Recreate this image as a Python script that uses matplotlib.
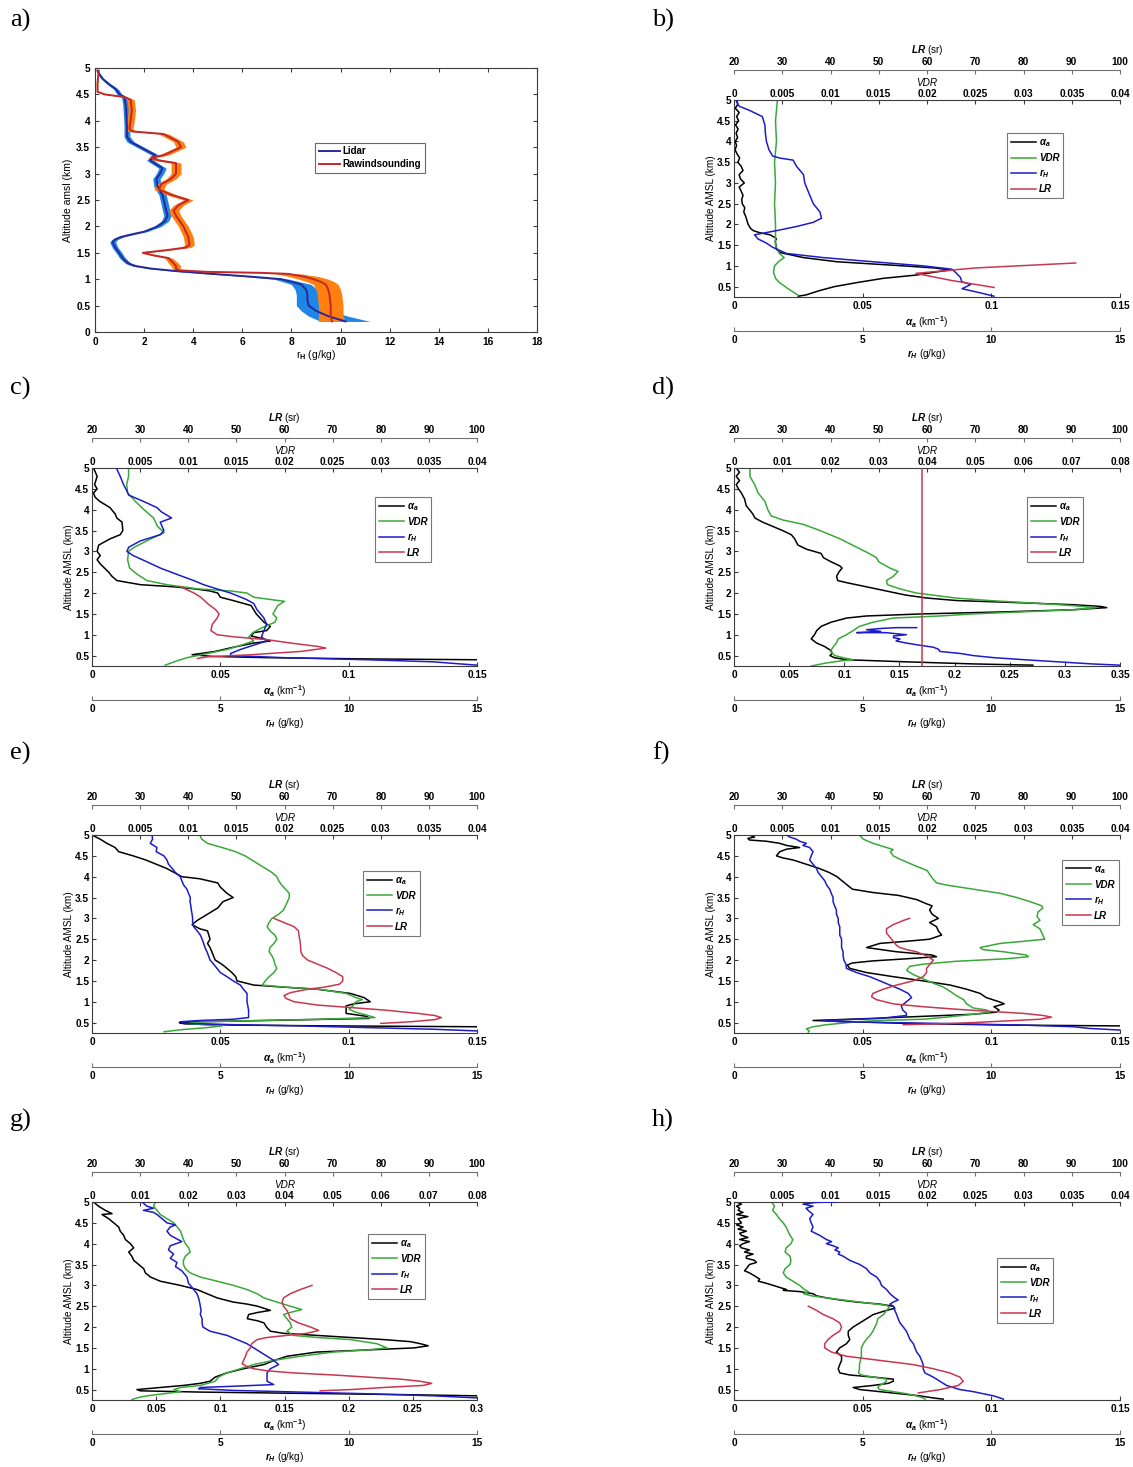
import numpy as np
import matplotlib
matplotlib.use('Agg')
import matplotlib.pyplot as plt
from matplotlib.ticker import FuncFormatter

plt.rcParams['font.family'] = ['Liberation Sans', 'DejaVu Sans']
plt.rcParams['font.weight'] = 'bold'
plt.rcParams['mathtext.fontset'] = 'custom'
plt.rcParams['mathtext.rm'] = 'Liberation Sans'
plt.rcParams['mathtext.it'] = 'Liberation Sans:italic'
plt.rcParams['mathtext.bf'] = 'Liberation Sans:bold'
plt.rcParams['mathtext.bfit'] = 'Liberation Sans:bold:italic'

# ---- panel a: water vapour mixing ratio, (altitude km, r_H g/kg, half width)
lidar_rh = [(0.2, 10.2, 1.0), (0.3, 9.5, 0.8), (0.4, 9.0, 0.6), (0.5, 8.7, 0.5), (0.6, 8.65, 0.45),
            (0.7, 8.65, 0.45), (0.8, 8.6, 0.45), (0.9, 8.4, 0.4), (1.0, 7.6, 0.3), (1.05, 6.3, 0.25),
            (1.1, 4.8, 0.2), (1.15, 3.4, 0.2), (1.2, 2.3, 0.15), (1.25, 1.65, 0.15), (1.3, 1.35, 0.12),
            (1.4, 1.12, 0.12), (1.5, 0.98, 0.12), (1.6, 0.82, 0.12), (1.7, 0.72, 0.12), (1.75, 0.8, 0.12),
            (1.8, 1.05, 0.12), (1.85, 1.5, 0.12), (1.9, 2.0, 0.12), (2.0, 2.55, 0.15), (2.1, 2.85, 0.15),
            (2.2, 2.95, 0.15), (2.4, 2.85, 0.15), (2.6, 2.75, 0.15), (2.75, 2.55, 0.15), (2.9, 2.5, 0.15),
            (3.0, 2.65, 0.15), (3.1, 2.75, 0.15), (3.25, 2.25, 0.15), (3.35, 2.45, 0.15), (3.45, 2.05, 0.15),
            (3.6, 1.45, 0.15), (3.7, 1.3, 0.12), (3.9, 1.3, 0.12), (4.1, 1.28, 0.12), (4.3, 1.25, 0.12),
            (4.45, 1.2, 0.12), (4.5, 1.0, 0.1), (4.6, 0.85, 0.1), (4.7, 0.55, 0.08), (4.8, 0.3, 0.06),
            (4.9, 0.15, 0.05), (4.95, 0.1, 0.03)]
sonde_rh = [(0.2, 9.65, 0.55), (0.3, 9.6, 0.5), (0.5, 9.6, 0.5), (0.7, 9.55, 0.5), (0.8, 9.5, 0.5),
            (0.9, 9.4, 0.5), (0.95, 9.2, 0.55), (1.0, 8.9, 0.6), (1.05, 8.5, 0.6), (1.1, 7.9, 0.5),
            (1.12, 6.8, 0.3), (1.14, 4.5, 0.2), (1.17, 3.4, 0.15), (1.2, 3.3, 0.15), (1.25, 3.3, 0.2),
            (1.3, 3.2, 0.2), (1.4, 3.0, 0.15), (1.45, 2.4, 0.1), (1.5, 1.95, 0.1), (1.55, 2.9, 0.15),
            (1.6, 3.7, 0.2), (1.65, 3.85, 0.2), (1.8, 3.8, 0.2), (2.0, 3.6, 0.2), (2.2, 3.3, 0.2),
            (2.3, 3.2, 0.2), (2.4, 3.4, 0.2), (2.5, 3.8, 0.2), (2.6, 3.1, 0.2), (2.7, 2.6, 0.2),
            (2.8, 2.7, 0.2), (2.9, 3.1, 0.2), (3.0, 3.3, 0.2), (3.2, 3.3, 0.2), (3.25, 2.6, 0.2),
            (3.3, 2.3, 0.15), (3.35, 2.8, 0.2), (3.5, 3.5, 0.2), (3.6, 3.4, 0.2), (3.75, 2.8, 0.2),
            (3.8, 1.5, 0.15), (3.85, 1.4, 0.15), (4.0, 1.45, 0.15), (4.2, 1.5, 0.15), (4.4, 1.45, 0.15),
            (4.45, 1.2, 0.1), (4.5, 0.4, 0.05), (4.55, 0.1, 0.02), (4.7, 0.1, 0.02), (4.95, 0.15, 0.02)]

# ---- panels b-h: (altitude km, value)
b_alpha = [(5.0, 0.0008), (4.9, 0.0015), (4.8, 0.0005), (4.7, 0.002), (4.6, 0.001), (4.5, 0.0018),
           (4.4, 0.0006), (4.3, 0.0016), (4.2, 0.0008), (4.1, 0.0014), (4.0, 0.0005), (3.9, 0.001),
           (3.8, 0.0004), (3.7, 0.0012), (3.6, 0.0022), (3.5, 0.0015), (3.4, 0.0028), (3.3, 0.0035),
           (3.2, 0.002), (3.1, 0.0025), (3.0, 0.004), (2.9, 0.002), (2.8, 0.0028), (2.7, 0.0035),
           (2.6, 0.003), (2.5, 0.0032), (2.4, 0.0042), (2.3, 0.0038), (2.2, 0.0045), (2.1, 0.005),
           (2.0, 0.0055), (1.9, 0.0065), (1.85, 0.0075), (1.8, 0.01), (1.75, 0.014), (1.68, 0.016),
           (1.65, 0.0165), (1.6, 0.016), (1.5, 0.0163), (1.4, 0.0165), (1.32, 0.018), (1.2, 0.027),
           (1.1, 0.040), (1.05, 0.053), (1.0, 0.066), (0.95, 0.078), (0.9, 0.084), (0.85, 0.078),
           (0.78, 0.071), (0.7, 0.058), (0.6, 0.048), (0.5, 0.039), (0.4, 0.033), (0.3, 0.028), (0.27, 0.025)]
b_vdr = [(5.0, 0.0045), (4.5, 0.0043), (4.0, 0.0044), (3.5, 0.0042), (3.0, 0.0043), (2.5, 0.0042),
         (2.0, 0.0043), (1.5, 0.0043), (1.3, 0.0047), (1.2, 0.0052), (1.1, 0.0046), (1.0, 0.0042),
         (0.85, 0.0041), (0.7, 0.0043), (0.6, 0.0047), (0.45, 0.0056), (0.3, 0.0066)]
b_rh = [(5.0, 0.1), (4.9, 0.15), (4.85, 0.2), (4.75, 0.6), (4.6, 1.1), (4.5, 1.15), (4.4, 1.2), (4.2, 1.22),
        (4.0, 1.26), (3.8, 1.36), (3.65, 1.5), (3.6, 1.78), (3.55, 2.3), (3.4, 2.43), (3.2, 2.7), (3.0, 2.75),
        (2.8, 2.88), (2.5, 3.08), (2.3, 3.34), (2.15, 3.4), (2.05, 3.08), (1.95, 2.43), (1.85, 1.65),
        (1.75, 0.8), (1.65, 0.93), (1.55, 1.26), (1.45, 1.5), (1.3, 2.04), (1.2, 3.47), (1.1, 5.4),
        (1.0, 7.36), (0.92, 8.47), (0.85, 8.6), (0.72, 8.8), (0.62, 8.85), (0.55, 9.2), (0.45, 8.86),
        (0.35, 9.57), (0.27, 10.1)]
b_lr = [(1.07, 90.8), (0.95, 70.0), (0.82, 57.7), (0.65, 65.0), (0.48, 73.9)]

c_alpha = [(5.0, 0.0006), (4.8, 0.002), (4.6, 0.001), (4.5, 0.002), (4.4, 0.0006), (4.3, 0.0012), (4.2, 0.003),
           (4.05, 0.007), (3.9, 0.009), (3.8, 0.0097), (3.7, 0.0117), (3.5, 0.012), (3.4, 0.011), (3.3, 0.007),
           (3.15, 0.0026), (3.0, 0.002), (2.9, 0.0032), (2.8, 0.002), (2.7, 0.0032), (2.5, 0.0065),
           (2.4, 0.0078), (2.3, 0.0097), (2.2, 0.019), (2.15, 0.032), (2.1, 0.040), (2.05, 0.046),
           (2.0, 0.049), (1.9, 0.050), (1.82, 0.055), (1.7, 0.062), (1.5, 0.064), (1.3, 0.067), (1.2, 0.0695),
           (1.1, 0.068), (1.05, 0.063), (0.97, 0.062), (0.9, 0.067), (0.85, 0.0695), (0.8, 0.063),
           (0.7, 0.055), (0.6, 0.048), (0.52, 0.039), (0.48, 0.047), (0.45, 0.068), (0.42, 0.107), (0.4, 0.15)]
c_vdr = [(5.0, 0.0038), (4.8, 0.0038), (4.6, 0.0036), (4.4, 0.0037), (4.2, 0.0045), (4.0, 0.0054),
         (3.8, 0.0064), (3.6, 0.0068), (3.45, 0.0075), (3.3, 0.0061), (3.1, 0.0044), (3.0, 0.0038),
         (2.8, 0.0037), (2.6, 0.0039), (2.45, 0.0047), (2.3, 0.0057), (2.2, 0.0078), (2.1, 0.011),
         (2.05, 0.0144), (2.0, 0.0161), (1.9, 0.0168), (1.8, 0.020), (1.7, 0.0193), (1.5, 0.0188),
         (1.4, 0.0192), (1.3, 0.019), (1.15, 0.0175), (1.05, 0.0167), (0.95, 0.0163), (0.85, 0.0168),
         (0.75, 0.0155), (0.65, 0.0141), (0.55, 0.012), (0.45, 0.0099), (0.38, 0.0089), (0.32, 0.0082),
         (0.27, 0.0076)]
c_rh = [(5.0, 0.95), (4.8, 1.1), (4.6, 1.23), (4.45, 1.36), (4.35, 1.43), (4.2, 2.0), (4.05, 2.53),
        (3.95, 2.7), (3.8, 3.1), (3.7, 2.66), (3.5, 2.8), (3.4, 2.66), (3.25, 1.88), (3.1, 1.43), (3.0, 1.36),
        (2.9, 1.6), (2.75, 2.14), (2.6, 2.66), (2.45, 3.3), (2.3, 3.96), (2.2, 4.35), (2.1, 4.87), (2.0, 5.4),
        (1.85, 6.0), (1.75, 6.3), (1.6, 6.43), (1.4, 6.7), (1.25, 6.8), (1.1, 6.7), (0.95, 6.6), (0.85, 6.8),
        (0.75, 6.3), (0.65, 5.8), (0.55, 5.4), (0.5, 5.4), (0.45, 7.47), (0.4, 10.7), (0.35, 13.3),
        (0.3, 14.35), (0.27, 15.0)]
c_lr = [(2.15, 38.4), (2.0, 41.2), (1.9, 42.6), (1.75, 44.0), (1.6, 45.7), (1.5, 46.4), (1.4, 46.0),
        (1.25, 45.0), (1.1, 44.7), (1.0, 46.0), (0.95, 49.5), (0.88, 56.5), (0.8, 61.3), (0.72, 66.9),
        (0.68, 68.6), (0.6, 63.4), (0.52, 53.0), (0.47, 44.0), (0.43, 41.9)]

d_alpha = [(5.0, 0.002), (4.9, 0.005), (4.8, 0.002), (4.7, 0.005), (4.6, 0.002), (4.5, 0.004), (4.4, 0.0067),
           (4.25, 0.0097), (4.1, 0.011), (4.0, 0.014), (3.9, 0.017), (3.8, 0.019), (3.7, 0.026), (3.6, 0.035),
           (3.5, 0.044), (3.4, 0.052), (3.3, 0.055), (3.15, 0.058), (3.05, 0.066), (2.95, 0.079), (2.85, 0.081),
           (2.75, 0.088), (2.65, 0.096), (2.6, 0.098), (2.5, 0.095), (2.4, 0.093), (2.3, 0.094), (2.25, 0.102),
           (2.15, 0.12), (2.05, 0.138), (1.95, 0.156), (1.88, 0.175), (1.82, 0.202), (1.78, 0.247),
           (1.72, 0.308), (1.68, 0.332), (1.65, 0.338), (1.6, 0.308), (1.55, 0.247), (1.5, 0.171),
           (1.45, 0.12), (1.4, 0.102), (1.3, 0.088), (1.2, 0.079), (1.1, 0.075), (1.0, 0.073), (0.9, 0.070),
           (0.8, 0.075), (0.72, 0.082), (0.62, 0.088), (0.55, 0.089), (0.5, 0.087), (0.45, 0.091),
           (0.4, 0.102), (0.35, 0.156), (0.3, 0.217), (0.27, 0.271)]
d_vdr = [(5.0, 0.0033), (4.8, 0.0033), (4.6, 0.0043), (4.4, 0.005), (4.2, 0.0064), (4.0, 0.007),
         (3.85, 0.0077), (3.75, 0.0102), (3.65, 0.0143), (3.5, 0.0178), (3.3, 0.022), (3.1, 0.0254),
         (2.95, 0.028), (2.85, 0.0295), (2.75, 0.030), (2.6, 0.0323), (2.52, 0.034), (2.4, 0.033),
         (2.3, 0.0316), (2.2, 0.0318), (2.1, 0.0344), (2.0, 0.0378), (1.95, 0.0413), (1.88, 0.046),
         (1.82, 0.053), (1.75, 0.0634), (1.7, 0.070), (1.65, 0.075), (1.6, 0.0703), (1.55, 0.060),
         (1.5, 0.0496), (1.45, 0.0427), (1.4, 0.033), (1.3, 0.0288), (1.2, 0.026), (1.1, 0.0247),
         (1.0, 0.0233), (0.9, 0.0216), (0.8, 0.0212), (0.7, 0.0205), (0.6, 0.020), (0.5, 0.0209),
         (0.45, 0.0226), (0.4, 0.0247), (0.37, 0.022), (0.32, 0.019), (0.25, 0.016)]
d_rh = [(1.17, 7.1), (1.17, 6.3), (1.15, 5.7), (1.12, 5.15), (1.08, 5.7), (1.05, 4.77), (1.05, 5.9),
        (1.0, 6.7), (0.97, 6.2), (0.93, 6.2), (0.9, 6.45), (0.85, 6.3), (0.8, 6.7), (0.75, 7.2), (0.7, 7.75),
        (0.65, 7.95), (0.6, 8.0), (0.55, 8.8), (0.5, 9.3), (0.45, 10.1), (0.4, 11.3), (0.35, 12.6),
        (0.3, 13.9), (0.27, 15.0)]
d_lr = [(0.25, 58.9), (5.0, 58.9)]

e_alpha = [(5.0, 0.0), (4.9, 0.0032), (4.8, 0.0058), (4.7, 0.009), (4.6, 0.0104), (4.5, 0.016), (4.4, 0.021),
           (4.3, 0.025), (4.2, 0.029), (4.1, 0.032), (4.0, 0.035), (3.95, 0.042), (3.85, 0.049), (3.75, 0.050),
           (3.6, 0.0526), (3.5, 0.055), (3.4, 0.051), (3.25, 0.049), (3.1, 0.045), (2.95, 0.041), (2.85, 0.039),
           (2.75, 0.042), (2.7, 0.045), (2.6, 0.0455), (2.5, 0.046), (2.4, 0.045), (2.3, 0.046), (2.15, 0.047),
           (2.0, 0.048), (1.9, 0.0506), (1.8, 0.0526), (1.7, 0.0545), (1.6, 0.056), (1.5, 0.0565), (1.4, 0.063),
           (1.35, 0.0747), (1.3, 0.0877), (1.2, 0.1006), (1.1, 0.106), (1.0, 0.1084), (0.95, 0.102),
           (0.9, 0.099), (0.8, 0.099), (0.72, 0.099), (0.65, 0.107), (0.6, 0.108), (0.55, 0.068),
           (0.52, 0.042), (0.5, 0.034), (0.47, 0.036), (0.44, 0.055), (0.42, 0.094), (0.4, 0.15)]
e_vdr = [(5.0, 0.0112), (4.9, 0.0114), (4.8, 0.012), (4.7, 0.0135), (4.6, 0.0149), (4.5, 0.0159), (4.4, 0.0166),
         (4.3, 0.0173), (4.2, 0.018), (4.1, 0.0187), (4.0, 0.0192), (3.9, 0.0194), (3.8, 0.0197), (3.7, 0.0201),
         (3.6, 0.0205), (3.5, 0.0205), (3.4, 0.0203), (3.3, 0.0201), (3.2, 0.0199), (3.1, 0.0194), (3.0, 0.0187),
         (2.9, 0.0184), (2.8, 0.0182), (2.7, 0.0185), (2.6, 0.019), (2.5, 0.0192), (2.4, 0.0189), (2.3, 0.0185),
         (2.2, 0.0184), (2.1, 0.0187), (2.0, 0.0189), (1.9, 0.019), (1.8, 0.0192), (1.7, 0.0189), (1.6, 0.0184),
         (1.5, 0.018), (1.4, 0.0177), (1.35, 0.0201), (1.3, 0.0236), (1.2, 0.0264), (1.1, 0.0274),
         (1.05, 0.0281), (1.0, 0.0274), (0.9, 0.0271), (0.82, 0.0267), (0.75, 0.0274), (0.68, 0.0285),
         (0.62, 0.0294), (0.58, 0.0236), (0.55, 0.0173), (0.52, 0.0114), (0.48, 0.010), (0.45, 0.0114),
         (0.42, 0.0135), (0.38, 0.012), (0.33, 0.0093), (0.28, 0.0075)]
e_rh = [(5.0, 2.34), (4.9, 2.36), (4.8, 2.27), (4.7, 2.53), (4.6, 2.5), (4.5, 2.8), (4.4, 2.92), (4.3, 2.98),
        (4.2, 3.12), (4.1, 3.25), (4.0, 3.44), (3.9, 3.5), (3.8, 3.57), (3.7, 3.7), (3.6, 3.76), (3.5, 3.83),
        (3.4, 3.82), (3.3, 3.85), (3.2, 3.87), (3.1, 3.9), (3.0, 3.92), (2.9, 3.92), (2.8, 3.96), (2.7, 4.1),
        (2.6, 4.22), (2.5, 4.29), (2.4, 4.35), (2.3, 4.4), (2.2, 4.48), (2.1, 4.54), (2.0, 4.6), (1.9, 4.74),
        (1.8, 4.87), (1.7, 5.0), (1.6, 5.26), (1.5, 5.5), (1.4, 5.78), (1.3, 5.9), (1.2, 6.04), (1.1, 6.04),
        (1.0, 6.04), (0.9, 6.07), (0.8, 6.1), (0.7, 6.1), (0.62, 6.1), (0.58, 5.5), (0.55, 4.2), (0.52, 3.44),
        (0.48, 3.7), (0.45, 5.5), (0.42, 8.1), (0.38, 10.7), (0.34, 13.3), (0.3, 15.0)]
e_lr = [(3.0, 57.8), (2.9, 59.9), (2.8, 62.0), (2.7, 62.9), (2.6, 63.0), (2.4, 63.3), (2.2, 63.4), (2.1, 63.8),
        (2.0, 64.8), (1.9, 66.9), (1.8, 69.0), (1.7, 70.7), (1.6, 72.1), (1.5, 72.1), (1.42, 71.4),
        (1.35, 68.3), (1.3, 64.8), (1.22, 61.3), (1.15, 59.9), (1.08, 60.3), (1.0, 62.0), (0.92, 66.9),
        (0.86, 73.8), (0.8, 80.8), (0.72, 87.7), (0.67, 91.2), (0.62, 92.6), (0.57, 91.2), (0.52, 86.3),
        (0.48, 80.0)]

f_alpha = [(5.0, 0.006), (4.95, 0.008), (4.92, 0.0054), (4.88, 0.006), (4.85, 0.0126), (4.8, 0.0178),
           (4.75, 0.0204), (4.7, 0.0255), (4.66, 0.0204), (4.6, 0.0178), (4.5, 0.0165), (4.45, 0.019),
           (4.4, 0.023), (4.3, 0.028), (4.2, 0.033), (4.1, 0.037), (4.0, 0.040), (3.9, 0.042), (3.8, 0.044),
           (3.7, 0.046), (3.62, 0.054), (3.55, 0.064), (3.45, 0.071), (3.35, 0.0748), (3.3, 0.077),
           (3.2, 0.076), (3.1, 0.077), (3.0, 0.0794), (2.9, 0.076), (2.8, 0.0787), (2.7, 0.0794),
           (2.6, 0.0807), (2.5, 0.076), (2.45, 0.067), (2.4, 0.0567), (2.3, 0.0515), (2.2, 0.063),
           (2.12, 0.077), (2.08, 0.0787), (2.03, 0.067), (1.98, 0.054), (1.93, 0.046), (1.88, 0.044),
           (1.8, 0.045), (1.7, 0.0515), (1.6, 0.062), (1.5, 0.0735), (1.4, 0.084), (1.3, 0.0904),
           (1.2, 0.0956), (1.1, 0.098), (1.0, 0.103), (0.95, 0.105), (0.88, 0.101), (0.8, 0.103),
           (0.75, 0.102), (0.7, 0.093), (0.65, 0.0735), (0.6, 0.054), (0.55, 0.0307), (0.53, 0.041),
           (0.48, 0.067), (0.44, 0.106), (0.42, 0.15)]
f_vdr = [(5.0, 0.013), (4.9, 0.0134), (4.8, 0.0144), (4.7, 0.0158), (4.65, 0.0165), (4.6, 0.0162),
         (4.5, 0.0165), (4.42, 0.0172), (4.35, 0.0179), (4.25, 0.0189), (4.15, 0.020), (4.05, 0.0203),
         (3.95, 0.0206), (3.85, 0.021), (3.8, 0.022), (3.7, 0.0248), (3.6, 0.0276), (3.5, 0.0293),
         (3.4, 0.0307), (3.3, 0.0319), (3.25, 0.032), (3.15, 0.0315), (3.05, 0.0314), (2.95, 0.0317),
         (2.85, 0.031), (2.75, 0.0317), (2.6, 0.032), (2.5, 0.0322), (2.45, 0.030), (2.4, 0.0276),
         (2.3, 0.0255), (2.25, 0.0258), (2.2, 0.0279), (2.12, 0.0303), (2.08, 0.0305), (2.03, 0.0282),
         (1.97, 0.023), (1.9, 0.0196), (1.85, 0.0182), (1.75, 0.0179), (1.65, 0.0186), (1.55, 0.0196),
         (1.45, 0.0206), (1.35, 0.0217), (1.25, 0.0224), (1.15, 0.023), (1.05, 0.0238), (0.95, 0.0241),
         (0.85, 0.0248), (0.8, 0.0262), (0.75, 0.0265), (0.7, 0.0248), (0.63, 0.022), (0.58, 0.0196),
         (0.55, 0.0151), (0.52, 0.0127), (0.48, 0.011), (0.45, 0.0096), (0.4, 0.0082), (0.35, 0.0075),
         (0.3, 0.0078), (0.27, 0.0077)]
f_rh = [(5.0, 2.04), (4.95, 2.17), (4.9, 2.42), (4.85, 2.55), (4.8, 2.81), (4.75, 2.68), (4.7, 2.94), (4.6, 3.07),
        (4.5, 3.0), (4.4, 2.94), (4.3, 3.07), (4.2, 3.2), (4.1, 3.27), (4.0, 3.4), (3.9, 3.53), (3.8, 3.6),
        (3.7, 3.72), (3.6, 3.78), (3.5, 3.85), (3.4, 3.85), (3.3, 3.91), (3.2, 3.98), (3.1, 3.98), (3.0, 4.05),
        (2.9, 4.05), (2.8, 4.11), (2.7, 4.11), (2.6, 4.11), (2.5, 4.18), (2.4, 4.18), (2.3, 4.18), (2.2, 4.24),
        (2.1, 4.24), (2.0, 4.27), (1.9, 4.35), (1.8, 4.37), (1.7, 4.76), (1.6, 5.28), (1.5, 5.67), (1.4, 6.06),
        (1.3, 6.45), (1.2, 6.77), (1.1, 6.9), (1.0, 6.7), (0.9, 6.5), (0.8, 6.56), (0.72, 6.7), (0.67, 6.7),
        (0.6, 5.67), (0.55, 3.46), (0.52, 4.11), (0.48, 8.0), (0.44, 11.2), (0.4, 13.2), (0.36, 13.8),
        (0.32, 15.0)]
f_lr = [(3.0, 56.4), (2.95, 55.1), (2.85, 53.0), (2.75, 51.6), (2.65, 51.6), (2.55, 52.3), (2.45, 53.0),
        (2.35, 53.7), (2.3, 54.4), (2.25, 55.8), (2.2, 57.8), (2.1, 59.9), (2.0, 61.3), (1.9, 60.6),
        (1.8, 59.9), (1.7, 59.9), (1.6, 59.2), (1.5, 57.1), (1.4, 53.7), (1.3, 50.9), (1.2, 48.8),
        (1.12, 48.5), (1.05, 49.5), (0.95, 53.0), (0.88, 59.2), (0.82, 66.1), (0.77, 73.0), (0.72, 80.0),
        (0.67, 84.1), (0.63, 85.8), (0.58, 83.4), (0.54, 76.5), (0.5, 69.6), (0.47, 62.7), (0.45, 55.1)]

g_alpha = [(5.0, 0.0013), (4.9, 0.005), (4.8, 0.0104), (4.72, 0.0156), (4.7, 0.0078), (4.6, 0.013),
           (4.5, 0.0169), (4.4, 0.0208), (4.3, 0.022), (4.2, 0.0247), (4.1, 0.026), (4.0, 0.0299),
           (3.9, 0.0325), (3.8, 0.0286), (3.7, 0.031), (3.6, 0.0325), (3.5, 0.0364), (3.4, 0.0403),
           (3.3, 0.0416), (3.2, 0.0455), (3.1, 0.0532), (3.0, 0.0688), (2.9, 0.0818), (2.8, 0.0896),
           (2.7, 0.0974), (2.6, 0.11), (2.55, 0.121), (2.5, 0.129), (2.45, 0.134), (2.4, 0.139),
           (2.35, 0.129), (2.3, 0.122), (2.2, 0.121), (2.15, 0.129), (2.1, 0.134), (2.0, 0.136),
           (1.9, 0.139), (1.85, 0.149), (1.8, 0.175), (1.75, 0.201), (1.7, 0.227), (1.65, 0.248),
           (1.6, 0.256), (1.55, 0.262), (1.5, 0.251), (1.45, 0.214), (1.4, 0.175), (1.3, 0.152),
           (1.2, 0.142), (1.1, 0.134), (1.05, 0.126), (1.0, 0.118), (0.9, 0.105), (0.8, 0.096),
           (0.7, 0.092), (0.65, 0.0844), (0.6, 0.0714), (0.55, 0.0532), (0.5, 0.035), (0.47, 0.0377),
           (0.44, 0.0844), (0.41, 0.162), (0.38, 0.24), (0.35, 0.3)]
g_vdr = [(5.0, 0.0132), (4.9, 0.0128), (4.8, 0.0135), (4.7, 0.0142), (4.6, 0.0156), (4.5, 0.017), (4.4, 0.0177),
         (4.3, 0.0184), (4.2, 0.0187), (4.1, 0.019), (4.0, 0.0194), (3.9, 0.0201), (3.8, 0.0204), (3.7, 0.0194),
         (3.6, 0.019), (3.5, 0.019), (3.4, 0.0194), (3.3, 0.0204), (3.2, 0.0225), (3.1, 0.026), (3.0, 0.0294),
         (2.9, 0.0322), (2.8, 0.0343), (2.7, 0.0357), (2.6, 0.0384), (2.5, 0.0412), (2.42, 0.0436),
         (2.35, 0.0412), (2.3, 0.0398), (2.2, 0.0405), (2.1, 0.0412), (2.0, 0.0415), (1.9, 0.0405),
         (1.8, 0.0419), (1.75, 0.0467), (1.7, 0.0537), (1.6, 0.0592), (1.5, 0.0613), (1.45, 0.0571),
         (1.4, 0.0502), (1.3, 0.0433), (1.2, 0.0377), (1.1, 0.0336), (1.0, 0.0308), (0.9, 0.028),
         (0.8, 0.0263), (0.7, 0.0256), (0.6, 0.0225), (0.55, 0.0184), (0.5, 0.017), (0.45, 0.0184),
         (0.4, 0.0149), (0.35, 0.0114), (0.3, 0.0093), (0.26, 0.0083)]
g_rh = [(5.0, 1.95), (4.9, 2.14), (4.85, 2.4), (4.8, 2.0), (4.75, 2.4), (4.7, 2.53), (4.6, 2.73), (4.5, 2.92),
        (4.45, 3.25), (4.4, 3.05), (4.3, 2.92), (4.2, 3.05), (4.05, 3.5), (3.95, 3.05), (3.85, 2.98),
        (3.75, 3.18), (3.65, 3.05), (3.55, 3.31), (3.45, 3.25), (3.35, 3.5), (3.2, 3.7), (3.05, 3.76),
        (2.95, 3.9), (2.8, 4.09), (2.7, 4.15), (2.6, 4.19), (2.5, 4.22), (2.4, 4.25), (2.3, 4.22), (2.2, 4.29),
        (2.1, 4.29), (2.0, 4.32), (1.9, 4.6), (1.8, 5.26), (1.7, 5.65), (1.6, 6.04), (1.5, 6.3), (1.4, 6.56),
        (1.3, 6.82), (1.2, 7.08), (1.1, 7.27), (1.0, 6.95), (0.9, 6.82), (0.8, 6.82), (0.7, 6.82), (0.62, 7.08),
        (0.58, 5.52), (0.55, 4.22), (0.52, 4.15), (0.48, 5.52), (0.44, 8.1), (0.4, 10.7), (0.35, 13.3),
        (0.3, 15.0)]
g_lr = [(3.0, 65.7), (2.9, 63.3), (2.8, 61.2), (2.7, 59.8), (2.6, 59.5), (2.5, 59.8), (2.4, 60.5), (2.3, 60.9),
        (2.2, 61.2), (2.1, 62.9), (2.0, 65.4), (1.92, 67.1), (1.85, 64.7), (1.8, 60.5), (1.75, 56.4),
        (1.7, 54.3), (1.6, 53.2), (1.5, 52.9), (1.4, 52.2), (1.3, 51.9), (1.2, 51.5), (1.12, 51.2),
        (1.05, 52.2), (1.0, 53.6), (0.95, 56.4), (0.9, 61.9), (0.85, 70.2), (0.8, 77.1), (0.75, 84.1),
        (0.7, 88.2), (0.65, 90.6), (0.6, 88.9), (0.55, 80.6), (0.5, 73.7), (0.47, 67.4)]

h_alpha = [(5.0, 0.001), (4.95, 0.0029), (4.9, 0.001), (4.85, 0.0022), (4.8, 0.0016), (4.75, 0.0035),
           (4.7, 0.001), (4.65, 0.0054), (4.6, 0.0016), (4.55, 0.0022), (4.5, 0.0029), (4.45, 0.001),
           (4.4, 0.0035), (4.35, 0.0016), (4.3, 0.0048), (4.25, 0.0022), (4.2, 0.0029), (4.15, 0.0054),
           (4.1, 0.0022), (4.05, 0.006), (4.0, 0.0035), (3.95, 0.0022), (3.9, 0.0029), (3.85, 0.006),
           (3.8, 0.0041), (3.75, 0.0074), (3.7, 0.0048), (3.65, 0.0048), (3.6, 0.008), (3.55, 0.0087),
           (3.5, 0.006), (3.4, 0.0048), (3.35, 0.0041), (3.3, 0.006), (3.25, 0.0074), (3.2, 0.0087),
           (3.15, 0.01), (3.1, 0.0094), (3.05, 0.0126), (3.0, 0.0152), (2.95, 0.0178), (2.9, 0.0204),
           (2.88, 0.0191), (2.85, 0.0256), (2.8, 0.0307), (2.75, 0.032), (2.7, 0.036), (2.65, 0.0411),
           (2.6, 0.0476), (2.55, 0.0567), (2.5, 0.0619), (2.45, 0.0625), (2.4, 0.0593), (2.35, 0.0567),
           (2.3, 0.0541), (2.2, 0.0515), (2.1, 0.0489), (2.0, 0.0463), (1.9, 0.0444), (1.8, 0.0444),
           (1.7, 0.045), (1.6, 0.0437), (1.5, 0.0411), (1.4, 0.0398), (1.3, 0.0418), (1.2, 0.0418),
           (1.1, 0.0411), (1.0, 0.0405), (0.9, 0.0411), (0.85, 0.045), (0.8, 0.0541), (0.75, 0.0619),
           (0.7, 0.0619), (0.65, 0.06), (0.6, 0.0541), (0.55, 0.0463), (0.5, 0.0489), (0.45, 0.0567),
           (0.4, 0.0645), (0.35, 0.0722), (0.3, 0.0774), (0.27, 0.0813)]
h_vdr = [(5.0, 0.0039), (4.9, 0.0042), (4.8, 0.0040), (4.7, 0.0044), (4.6, 0.0047), (4.5, 0.0051), (4.4, 0.0054),
         (4.3, 0.0056), (4.2, 0.0058), (4.1, 0.0061), (4.0, 0.0059), (3.9, 0.0054), (3.8, 0.0053), (3.7, 0.0058),
         (3.6, 0.0059), (3.5, 0.0058), (3.4, 0.0053), (3.3, 0.0051), (3.2, 0.0054), (3.1, 0.0061), (3.0, 0.0068),
         (2.9, 0.0073), (2.85, 0.0077), (2.8, 0.0072), (2.75, 0.008), (2.7, 0.0096), (2.65, 0.0113),
         (2.6, 0.013), (2.55, 0.0148), (2.52, 0.0158), (2.48, 0.0161), (2.4, 0.0158), (2.3, 0.0155),
         (2.2, 0.0149), (2.1, 0.0148), (2.0, 0.0146), (1.9, 0.0144), (1.8, 0.0141), (1.7, 0.0137),
         (1.6, 0.0134), (1.5, 0.0132), (1.4, 0.0132), (1.3, 0.0132), (1.2, 0.0131), (1.1, 0.013), (1.0, 0.013),
         (0.9, 0.0129), (0.85, 0.0132), (0.8, 0.0144), (0.75, 0.0158), (0.7, 0.0158), (0.65, 0.0155),
         (0.6, 0.0151), (0.55, 0.0149), (0.5, 0.0151), (0.45, 0.0165), (0.4, 0.0179), (0.35, 0.0189),
         (0.3, 0.0196), (0.27, 0.0198)]
h_rh = [(5.0, 3.98), (4.99, 3.2), (4.95, 2.68), (4.9, 3.07), (4.85, 2.8), (4.8, 2.88), (4.7, 3.07), (4.6, 2.94),
        (4.5, 3.0), (4.4, 3.07), (4.3, 3.0), (4.2, 3.33), (4.1, 3.59), (4.05, 3.79), (4.0, 3.59), (3.95, 3.85),
        (3.9, 4.05), (3.85, 3.92), (3.8, 4.11), (3.75, 4.05), (3.7, 4.24), (3.6, 4.5), (3.5, 4.89), (3.4, 5.15),
        (3.3, 5.28), (3.2, 5.54), (3.1, 5.67), (3.0, 5.73), (2.9, 5.93), (2.8, 6.06), (2.7, 6.25), (2.65, 6.38),
        (2.6, 6.19), (2.55, 6.06), (2.5, 6.19), (2.4, 6.25), (2.3, 6.32), (2.2, 6.38), (2.1, 6.45), (2.0, 6.58),
        (1.9, 6.7), (1.8, 6.77), (1.7, 6.84), (1.6, 6.97), (1.5, 7.03), (1.4, 7.1), (1.3, 7.22), (1.2, 7.29),
        (1.1, 7.35), (1.0, 7.35), (0.9, 7.42), (0.8, 7.74), (0.7, 8.0), (0.6, 8.26), (0.5, 8.78), (0.45, 9.3),
        (0.4, 9.69), (0.35, 10.08), (0.3, 10.34), (0.27, 10.47)]
h_lr = [(2.5, 35.4), (2.4, 37.1), (2.3, 38.5), (2.2, 40.5), (2.1, 41.9), (2.0, 42.3), (1.9, 41.9), (1.8, 40.5),
        (1.7, 39.5), (1.6, 38.8), (1.5, 38.8), (1.4, 40.2), (1.3, 43.3), (1.2, 50.2), (1.1, 57.1), (1.0, 61.3),
        (0.9, 64.7), (0.8, 66.8), (0.7, 67.5), (0.6, 66.5), (0.5, 62.7), (0.45, 59.9), (0.42, 58.2)]

W, H = 1133, 1467
C_ALPHA, C_VDR, C_RH, C_LR = 'black', '#3aa83a', '#1c1cc8', '#c8374f'
SPINE, SPINE2 = '#3c3c3c', '#707070'
LW = 1.1
TICK_FS = 7.3
fmt = FuncFormatter(lambda v, p: '%g' % round(v, 6))


def rect(x0, x1, y0, y1):
    return [x0 / W, 1 - y1 / H, (x1 - x0) / W, (y1 - y0) / H]


def xz(curve):
    z, v = zip(*curve)
    return v, z


def only_spine(a, name, color):
    for s in a.spines:
        a.spines[s].set_visible(s == name)
    a.spines[name].set_color(color)
    a.spines[name].set_linewidth(0.8)


def profile_panel(pos, alpha, vdr, rh, lr, a_max, v_max, leg_xy):
    ax = fig.add_axes(rect(*pos))
    la, = ax.plot(*xz(alpha), color=C_ALPHA, lw=LW)
    ax.set_xlim(0, a_max)
    ax.set_ylim(0.25, 5)
    ax.set_xticks(np.arange(0, a_max + 1e-9, 0.05))
    ax.set_yticks(np.arange(0.5, 5.01, 0.5))
    ax.xaxis.set_major_formatter(fmt)
    ax.yaxis.set_major_formatter(fmt)
    ax.spines['right'].set_visible(False)
    ax.spines['top'].set_visible(False)
    for s in ['left', 'bottom']:
        ax.spines[s].set_color(SPINE)
        ax.spines[s].set_linewidth(0.8)
    ax.tick_params(direction='in', length=3, labelsize=TICK_FS, pad=3, color=SPINE)
    ax.tick_params(axis='y', pad=2)
    ax.set_xlabel(r'$\alpha_a$ (km$^{-1}$)', fontsize=7.2, fontweight='normal', labelpad=2)
    ax.set_ylabel('Altitude AMSL (km)', fontsize=7.2, labelpad=1)

    # VDR on the top spine of the box
    ax_v = ax.twiny()
    lv, = ax_v.plot(*xz(vdr), color=C_VDR, lw=LW)
    ax_v.set_xlim(0, v_max)
    ax_v.set_xticks(np.linspace(0, v_max, 9))
    ax_v.xaxis.set_major_formatter(fmt)
    only_spine(ax_v, 'top', SPINE)
    ax_v.tick_params(direction='in', length=3, labelsize=TICK_FS, pad=1, color=SPINE)
    ax_v.set_xlabel('VDR', fontsize=7.2, fontstyle='italic', labelpad=2)

    # r_H on a detached axis below
    ax_r = ax.twiny()
    lr_, = ax_r.plot(*xz(rh), color=C_RH, lw=LW)
    ax_r.xaxis.set_ticks_position('bottom')
    ax_r.xaxis.set_label_position('bottom')
    ax_r.set_xlim(0, 15)
    ax_r.set_xticks([0, 5, 10, 15])
    only_spine(ax_r, 'bottom', SPINE2)
    ax_r.spines['bottom'].set_position(('outward', 24.5))
    ax_r.tick_params(direction='in', length=3, labelsize=TICK_FS, pad=3, color=SPINE2)
    ax_r.set_xlabel(r'$r_H$ (g/kg)', fontsize=7.2, fontweight='normal', labelpad=1)

    # LR on a detached axis above
    ax_l = ax.twiny()
    ll, = ax_l.plot(*xz(lr), color=C_LR, lw=LW)
    ax_l.set_xlim(20, 100)
    ax_l.set_xticks(np.arange(20, 101, 10))
    only_spine(ax_l, 'top', SPINE2)
    ax_l.spines['top'].set_position(('outward', 21.6))
    ax_l.tick_params(direction='in', length=3, labelsize=TICK_FS, pad=2, color=SPINE2)
    ax_l.set_xlabel(r'$\mathbfit{LR}$ (sr)', fontsize=7.2, fontweight='normal', labelpad=3)

    leg = ax_l.legend([la, lv, lr_, ll], [r'$\alpha_a$', 'VDR', r'$r_H$', 'LR'],
                      loc='upper left', bbox_to_anchor=leg_xy, fancybox=False,
                      prop=dict(size=7, style='italic', weight='bold'), handlelength=2.6,
                      handletextpad=0.3, labelspacing=0.42, borderpad=0.4, borderaxespad=0)
    leg.get_frame().set_edgecolor('#555555')
    leg.get_frame().set_linewidth(0.8)


fig = plt.figure(figsize=(W / 100, H / 100), dpi=100)

# ---- panel a
ax = fig.add_axes(rect(95, 537, 68, 332))
za, ca, ea = (np.array(t) for t in zip(*lidar_rh))
zs, cs, es = (np.array(t) for t in zip(*sonde_rh))
ax.fill_betweenx(za, ca - ea, ca + ea, color='#1e86e6', lw=0)
ax.fill_betweenx(zs, cs - es, cs + es, color='#ff7f10', lw=0)
l1, = ax.plot(ca, za, color='#28289a', lw=1.4)
l2, = ax.plot(cs, zs, color='#c0282a', lw=1.4)
ax.set_xlim(0, 18)
ax.set_ylim(0, 5)
ax.set_xticks(np.arange(0, 19, 2))
ax.set_yticks(np.arange(0, 5.01, 0.5))
ax.yaxis.set_major_formatter(fmt)
ax.tick_params(direction='in', length=3, labelsize=TICK_FS, top=True, right=True, color=SPINE)
for s in ax.spines.values():
    s.set_color(SPINE)
    s.set_linewidth(0.8)
ax.set_xlabel(r'r$_{\mathbf{H}}$ (g/kg)', fontsize=7.5, labelpad=1)
ax.set_ylabel('Altitude amsl (km)', fontsize=7.5, labelpad=2)
leg = ax.legend([l1, l2], ['Lidar', 'Rawindsounding'], loc='upper left', bbox_to_anchor=(0.498, 0.716),
                fancybox=False, prop=dict(size=7, weight='bold'), handlelength=2.2,
                handletextpad=0.3, labelspacing=0.3, borderpad=0.35, borderaxespad=0)
leg.get_frame().set_edgecolor('#444444')
leg.get_frame().set_linewidth(0.8)

# ---- panels b-h
profile_panel((734, 1120, 100, 297), b_alpha, b_vdr, b_rh, b_lr, 0.15, 0.04, (0.707, 0.83))
profile_panel((92, 477, 468, 666), c_alpha, c_vdr, c_rh, c_lr, 0.15, 0.04, (0.735, 0.853))
profile_panel((734, 1120, 468, 666), d_alpha, d_vdr, d_rh, d_lr, 0.35, 0.08, (0.759, 0.853))
profile_panel((92, 477, 835, 1033), e_alpha, e_vdr, e_rh, e_lr, 0.15, 0.04, (0.704, 0.818))
profile_panel((734, 1120, 835, 1033), f_alpha, f_vdr, f_rh, f_lr, 0.15, 0.04, (0.85, 0.874))
profile_panel((92, 477, 1202, 1400), g_alpha, g_vdr, g_rh, g_lr, 0.3, 0.08, (0.717, 0.838))
profile_panel((734, 1120, 1202, 1400), h_alpha, h_vdr, h_rh, h_lr, 0.15, 0.04, (0.681, 0.717))

# panel letters
for lab, px, py in [('a)', 10, 20), ('b)', 652, 20), ('c)', 10, 388), ('d)', 652, 388),
                    ('e)', 10, 753), ('f)', 652, 753), ('g)', 10, 1120), ('h)', 652, 1120)]:
    fig.text(px / W, 1 - py / H, lab, family='Liberation Serif', fontweight='normal',
             fontsize=19, va='center', ha='left')

fig.savefig('out.png', dpi=100)
